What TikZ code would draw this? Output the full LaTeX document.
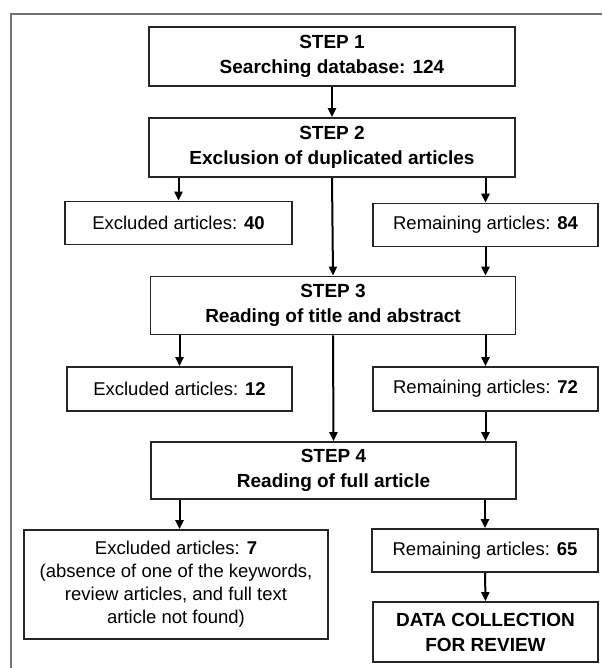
\documentclass[tikz,border=0pt]{standalone}
\usepackage{fontspec}
\setmainfont{Liberation Sans}
\usetikzlibrary{arrows.meta}
\begin{document}
\begin{tikzpicture}[x=1pt,y=-1pt,
  box/.style={draw=black!85, line width=1.7pt, inner sep=0pt, align=center,
    font=\fontsize{18.5}{23}\selectfont},
  stepbox/.style={box, font=\fontsize{19}{25}\selectfont\bfseries},
  arr/.style={line width=2pt, -{Triangle[length=9pt,width=8pt]}}]
\useasboundingbox (0,0) rectangle (602,668);
\draw[line width=1.8pt, black!55] (11,668) -- (11,14) -- (602,14);

\node[stepbox, minimum width=366pt, minimum height=59pt] (s1) at (332,56.5) {STEP 1\\Searching database: 124};
\node[stepbox, minimum width=366pt, minimum height=59pt] (s2) at (332,147.5) {STEP 2\\Exclusion of duplicated articles};
\node[box, minimum width=227pt, minimum height=43pt] (e40) at (178.5,223) {Excluded articles: \textbf{40}};
\node[box, minimum width=225pt, minimum height=43pt] (r84) at (485.5,225) {Remaining articles: \textbf{84}};
\node[stepbox, minimum width=365pt, minimum height=58pt] (s3) at (333,305.5) {STEP 3\\Reading of title and abstract};
\node[box, minimum width=225pt, minimum height=44pt] (e12) at (179.5,389) {Excluded articles: \textbf{12}};
\node[box, minimum width=225pt, minimum height=44pt] (r72) at (485.5,389) {Remaining articles: \textbf{72}};
\node[stepbox, minimum width=365pt, minimum height=57pt] (s4) at (333.5,470.5) {STEP 4\\Reading of full article};
\node[box, minimum width=304pt, minimum height=109pt] (e7) at (176,584.5) {Excluded articles: \textbf{7}\\(absence of one of the keywords,\\review articles, and full text\\article not found)};
\node[box, minimum width=226pt, minimum height=43pt] (r65) at (485,550.5) {Remaining articles: \textbf{65}};
\node[stepbox, minimum width=225pt, minimum height=60pt] (dc) at (485.5,632) {DATA COLLECTION\\FOR REVIEW};

\draw[arr] (s1.south) -- (s2.north);
\draw[arr] (e40.north |- s2.south) -- (e40.north);
\draw[arr] (s2.south) -- (s3.north);
\draw[arr] (r84.north |- s2.south) -- (r84.north);
\draw[arr] (r84.south) -- (r84.south |- s3.north);
\draw[arr] (e12.north |- s3.south) -- (e12.north);
\draw[arr] (s3.south) -- (s4.north);
\draw[arr] (r72.north |- s3.south) -- (r72.north);
\draw[arr] (r72.south) -- (r72.south |- s4.north);
\draw[arr] (e12.south |- s4.south) -- (e12.south |- e7.north);
\draw[arr] (r65.north |- s4.south) -- (r65.north);
\draw[arr] (r65.south) -- (dc.north);
\end{tikzpicture}
\end{document}
